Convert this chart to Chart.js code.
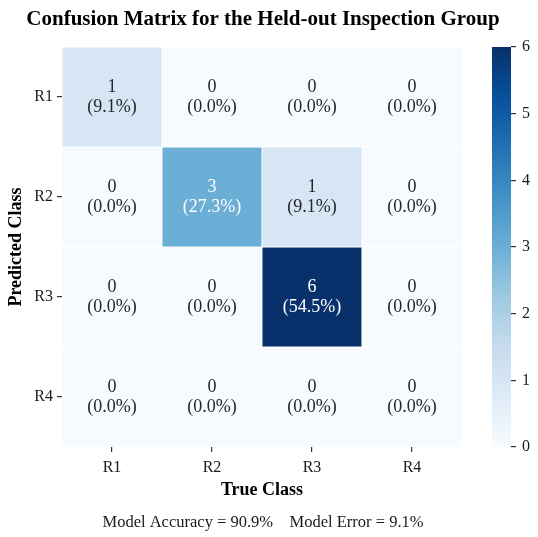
<!DOCTYPE html>
<html lang="en">
<head>
<meta charset="UTF-8">
<title>Confusion Matrix for the Held-out Inspection Group</title>
<script src="https://cdn.jsdelivr.net/npm/chart.js"></script>
<style>
  html, body { margin: 0; padding: 0; background: #fff; }
  #wrap { position: relative; width: 538px; height: 537px; }
  #wrap canvas { position: absolute; top: 0; }
  #matrix { left: 0; }
  #cbar { left: 440px; }
</style>
</head>
<body>
<div id="wrap">
  <canvas id="matrix" width="538" height="537"></canvas>
  <canvas id="cbar" width="98" height="537"></canvas>
</div>

<script>
// ---- data ----
const trueClasses = ['R1', 'R2', 'R3', 'R4'];   // columns (x)
const predClasses = ['R1', 'R2', 'R3', 'R4'];   // rows (y)
// counts per predicted row, one entry per true class
const predR1 = [1, 0, 0, 0];
const predR2 = [0, 3, 1, 0];
const predR3 = [0, 0, 6, 0];
const predR4 = [0, 0, 0, 0];
const colorbarTicks = [0, 1, 2, 3, 4, 5, 6];

const rows = [predR1, predR2, predR3, predR4];
const total = rows.flat().reduce((a, b) => a + b, 0);
const correct = rows.reduce((s, row, i) => s + row[i], 0);
const vmin = colorbarTicks[0];
const vmax = colorbarTicks[colorbarTicks.length - 1];

const FONT = '"Liberation Serif", "Times New Roman", serif';
Chart.defaults.font.family = FONT;
Chart.defaults.color = '#1a1a1a';

// matplotlib "Blues" colormap
const bluesStops = [
  [0.0, '#f7fbff'], [0.125, '#deebf7'], [0.25, '#c6dbef'], [0.375, '#9ecae1'],
  [0.5, '#6baed6'], [0.625, '#4292c6'], [0.75, '#2171b5'], [0.875, '#08519c'], [1.0, '#08306b']
];
function hexRgb(h) {
  return [1, 3, 5].map(i => parseInt(h.slice(i, i + 2), 16));
}
function blues(t) {
  t = Math.max(0, Math.min(1, t));
  for (let i = 1; i < bluesStops.length; i++) {
    const [t1, c1] = bluesStops[i];
    const [t0, c0] = bluesStops[i - 1];
    if (t <= t1) {
      const f = (t - t0) / (t1 - t0);
      const a = hexRgb(c0), b = hexRgb(c1);
      const m = a.map((v, k) => Math.round(v + (b[k] - v) * f));
      return `rgb(${m[0]},${m[1]},${m[2]})`;
    }
  }
  return bluesStops[bluesStops.length - 1][1];
}

// ---- heatmap: one floating-bar dataset per predicted row ----
const datasets = rows.map((row, r) => ({
  label: predClasses[r],
  data: row.map(() => [r, r + 1]),
  counts: row,
  backgroundColor: row.map(v => blues((v - vmin) / (vmax - vmin))),
  borderColor: '#ffffff',
  borderWidth: 0.8,
  borderSkipped: false,
  grouped: false,
  barPercentage: 1,
  categoryPercentage: 1
}));

const textPlugin = {
  id: 'textPlugin',
  afterDatasetsDraw(chart) {
    const ctx = chart.ctx;
    const area = chart.chartArea;
    ctx.save();
    ctx.textAlign = 'center';
    ctx.textBaseline = 'middle';
    ctx.font = '18px ' + FONT;
    chart.data.datasets.forEach((ds, r) => {
      chart.getDatasetMeta(r).data.forEach((bar, c) => {
        const v = ds.counts[c];
        const cy = (bar.y + bar.base) / 2;
        ctx.fillStyle = (v - vmin) / (vmax - vmin) >= 0.45 ? '#ffffff' : '#262626';
        ctx.fillText(String(v), bar.x, cy - 10);
        ctx.fillText('(' + (v / total * 100).toFixed(1) + '%)', bar.x, cy + 10);
      });
    });

    const cx = (area.left + area.right) / 2;
    ctx.fillStyle = '#000';
    ctx.font = 'bold 21px ' + FONT;
    ctx.fillText('Confusion Matrix for the Held-out Inspection Group', cx + 1, 20);

    const acc = (correct / total * 100).toFixed(1);
    const err = ((total - correct) / total * 100).toFixed(1);
    ctx.fillStyle = '#1a1a1a';
    ctx.font = '16.5px ' + FONT;
    ctx.fillText(`Model Accuracy = ${acc}%    Model Error = ${err}%`, cx + 1, 523);
    ctx.restore();
  }
};

new Chart(document.getElementById('matrix'), {
  type: 'bar',
  data: { labels: trueClasses, datasets },
  options: {
    responsive: false,
    animation: false,
    layout: { padding: { left: 0, right: 76, top: 47, bottom: 0 } },
    plugins: { legend: { display: false }, tooltip: { enabled: false } },
    scales: {
      x: {
        type: 'category',
        offset: true,
        grid: { offset: false, drawOnChartArea: false, tickLength: 5, color: '#333', lineWidth: 1.2 },
        border: { display: false },
        ticks: { padding: 6, font: { size: 16 } },
        title: { display: true, text: 'True Class', color: '#000',
                 font: { size: 18, weight: 'bold' }, padding: { bottom: 36 } },
        afterFit: s => { s.height = 90; }
      },
      y: {
        type: 'linear',
        min: 0,
        max: predClasses.length,
        reverse: true,
        afterBuildTicks: s => { s.ticks = predClasses.map((_, i) => ({ value: i + 0.5 })); },
        grid: { drawOnChartArea: false, tickLength: 5, color: '#333', lineWidth: 1.2 },
        border: { display: false },
        ticks: { padding: 4, font: { size: 16 }, callback: (v, i) => predClasses[i] },
        title: { display: true, text: 'Predicted Class', color: '#000',
                 font: { size: 18, weight: 'bold' }, padding: { top: 6 } },
        afterFit: s => { s.width = 62; }
      }
    }
  },
  plugins: [textPlugin]
});

// ---- colorbar ----
new Chart(document.getElementById('cbar'), {
  type: 'bar',
  data: {
    labels: ['count'],
    datasets: [{
      data: [[vmin, vmax]],
      backgroundColor: c => {
        const area = c.chart.chartArea;
        if (!area) return blues(0.5);
        const g = c.chart.ctx.createLinearGradient(0, area.bottom, 0, area.top);
        bluesStops.forEach(([t, col]) => g.addColorStop(t, col));
        return g;
      },
      borderWidth: 0,
      barPercentage: 1,
      categoryPercentage: 1
    }]
  },
  options: {
    responsive: false,
    animation: false,
    layout: { padding: { left: 52, top: 47, bottom: 90, right: 0 } },
    plugins: { legend: { display: false }, tooltip: { enabled: false } },
    scales: {
      x: { display: false },
      y: {
        position: 'right',
        min: vmin,
        max: vmax,
        afterBuildTicks: s => { s.ticks = colorbarTicks.map(v => ({ value: v })); },
        grid: { drawOnChartArea: false, tickLength: 5, color: '#333', lineWidth: 1.2 },
        border: { display: false },
        ticks: { padding: 6, font: { size: 16 }, callback: v => String(v) },
        afterFit: s => { s.width = 27; }
      }
    }
  }
});
</script>
</body>
</html>
